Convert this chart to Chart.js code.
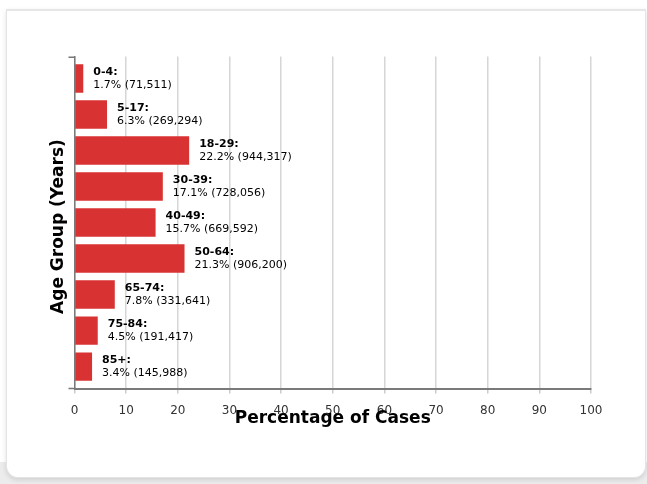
<!DOCTYPE html>
<html>
<head>
<meta charset="utf-8">
<script src="https://cdn.jsdelivr.net/npm/chart.js@4.4.1/dist/chart.umd.min.js"></script>
<style>
  html, body { margin: 0; padding: 0; background: #ffffff; width: 647px; height: 484px; overflow: hidden; }
  #bgstrip { position: absolute; left: 0; top: 462px; width: 647px; height: 22px; background: #ececec; }
  #card { position: absolute; left: 6px; top: 9px; width: 638px; height: 466px; background: #fff;
          border: 1px solid #e4e4e4; border-top: 2px solid #e6e6e6; border-radius: 0 0 12px 12px;
          box-shadow: 0 2px 5px rgba(0,0,0,0.12); }
  #c { position: absolute; left: 0; top: 0; }
</style>
</head>
<body>
<div id="bgstrip"></div>
<div id="card"></div>
<canvas id="c" width="647" height="484"></canvas>
<script>
const ageGroups = ['0-4', '5-17', '18-29', '30-39', '40-49', '50-64', '65-74', '75-84', '85+'];
const percentages = [1.7, 6.3, 22.2, 17.1, 15.7, 21.3, 7.8, 4.5, 3.4];
const caseCounts = [71511, 269294, 944317, 728056, 669592, 906200, 331641, 191417, 145988];
const xTicks = [0, 10, 20, 30, 40, 50, 60, 70, 80, 90, 100];
const xTitle = 'Percentage of Cases';
const yTitle = 'Age Group (Years)';

const FONT = "'DejaVu Sans', Verdana, sans-serif";

const overlay = {
  id: 'overlay',
  afterDatasetsDraw(chart) {
    const ctx = chart.ctx;
    const meta = chart.getDatasetMeta(0);
    const area = chart.chartArea;
    ctx.save();
    meta.data.forEach((bar, i) => {
      const x = bar.x + 10;
      const y = bar.y;
      ctx.fillStyle = '#000';
      ctx.textAlign = 'left';
      ctx.textBaseline = 'middle';
      ctx.font = 'bold 11px ' + FONT;
      ctx.fillText(ageGroups[i] + ':', x, y - 6.5);
      ctx.font = '11px ' + FONT;
      ctx.fillText(percentages[i].toFixed(1) + '% (' + caseCounts[i].toLocaleString('en-US') + ')', x, y + 6.5);
    });
    ctx.strokeStyle = '#777';
    ctx.lineWidth = 1.5;
    ctx.beginPath();
    ctx.moveTo(area.left - 6, area.top + 0.75);
    ctx.lineTo(area.left, area.top + 0.75);
    ctx.moveTo(area.left - 6, area.bottom);
    ctx.lineTo(area.left, area.bottom);
    ctx.stroke();
    ctx.fillStyle = '#000';
    ctx.font = 'bold 17px ' + FONT;
    ctx.textAlign = 'center';
    ctx.textBaseline = 'middle';
    ctx.fillText(xTitle, (area.left + area.right) / 2, area.bottom + 30);
    ctx.translate(area.left - 16, (area.top + area.bottom) / 2 + 4);
    ctx.rotate(-Math.PI / 2);
    ctx.fillText(yTitle, 0, 0);
    ctx.restore();
  }
};

new Chart(document.getElementById('c'), {
  type: 'bar',
  data: {
    labels: ageGroups,
    datasets: [{
      data: percentages.map((v, i) => ({ x: v, y: i })),
      backgroundColor: '#d83232',
      borderWidth: 0,
      barPercentage: 0.79,
      categoryPercentage: 1.0
    }]
  },
  options: {
    indexAxis: 'y',
    responsive: false,
    animation: false,
    layout: { padding: { left: 66.5, right: 56, top: 56.5, bottom: 56 } },
    plugins: { legend: { display: false }, tooltip: { enabled: false } },
    scales: {
      x: {
        type: 'linear',
        min: 0, max: 100,
        afterBuildTicks: (s) => { s.ticks = xTicks.map(v => ({ value: v })); },
        ticks: { color: '#333', font: { family: FONT, size: 12 }, padding: 10 },
        grid: { color: '#d6d6d6', lineWidth: 1.5, tickLength: 5, tickColor: '#cccccc' },
        border: { color: '#7a7a7a', width: 2 }
      },
      y: {
        type: 'linear',
        reverse: true,
        offset: false,
        min: -0.61, max: 8.61,
        afterBuildTicks: (s) => { s.ticks = ageGroups.map((g, i) => ({ value: i })); },
        ticks: { display: false },
        grid: { display: false },
        border: { color: '#7a7a7a', width: 1.5 }
      }
    }
  },
  plugins: [overlay]
});
</script>
</body>
</html>
